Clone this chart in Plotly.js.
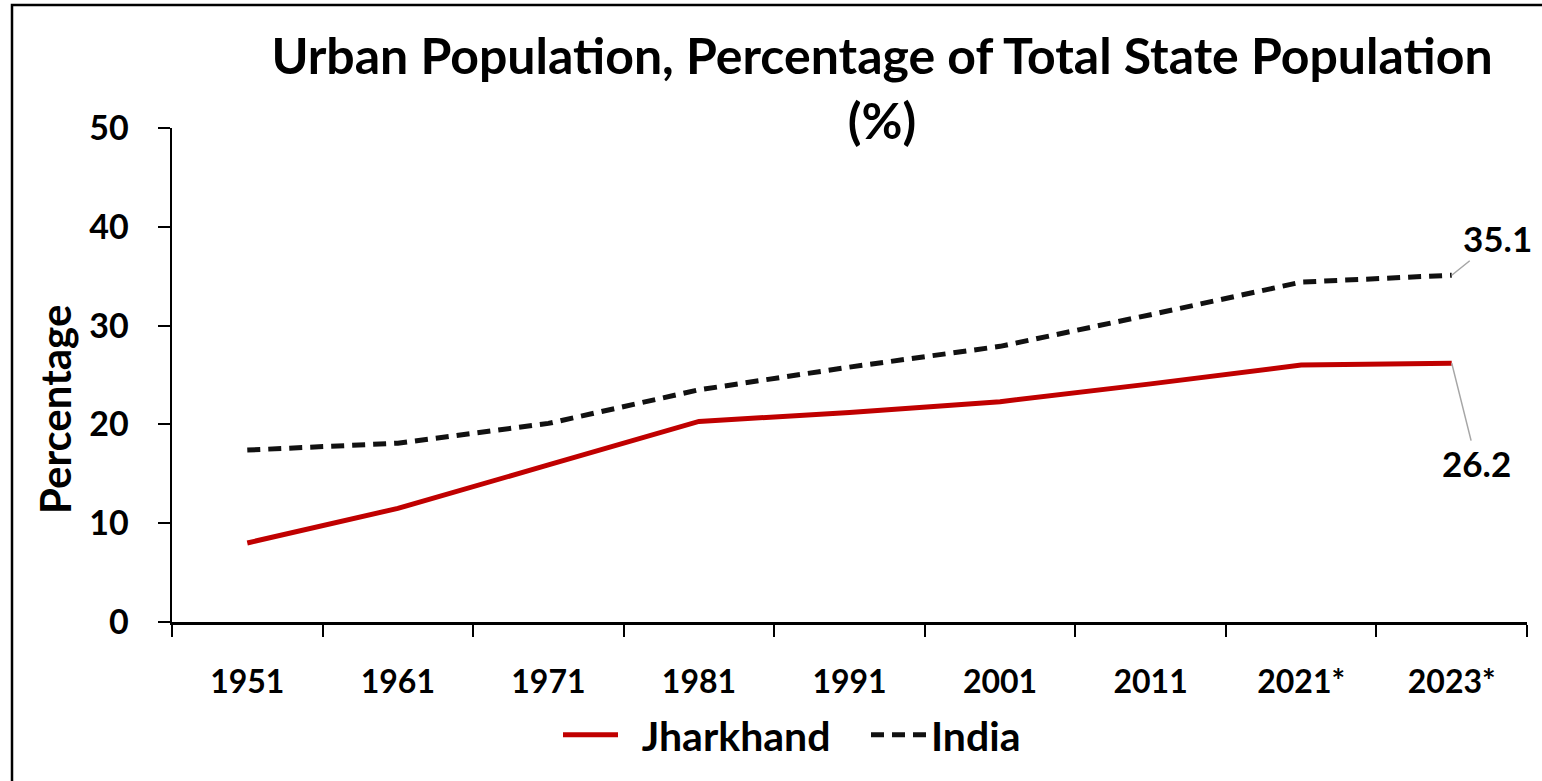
<!DOCTYPE html>
<html>
<head>
<meta charset="utf-8">
<script src="https://cdn.plot.ly/plotly-3.0.1.min.js"></script>
<style>html,body{margin:0;padding:0;background:#fff;}#chart{width:1542px;height:781px;}</style>
</head>
<body>
<div id="chart"></div>
<script>
const years = ["1951", "1961", "1971", "1981", "1991", "2001", "2011", "2021*", "2023*"];
const jharkhand = [8.0, 11.5, 15.9, 20.3, 21.2, 22.3, 24.1, 26.0, 26.2];
const india = [17.4, 18.1, 20.1, 23.5, 25.8, 27.9, 31.1, 34.4, 35.1];
const seriesNames = ["Jharkhand", "India"];
const titleText = "Urban Population, Percentage of Total State Population<br>(%)";
const yTitle = "Percentage";

const FONT = "Lato, 'Open Sans', sans-serif";
const W = 1542, H = 781;
const L = 172, R = 15, T = 128, B = 159;
const pw = W - L - R, ph = H - T - B;
const px = v => (v - L) / pw;
const py = v => (H - B - v) / ph;
const pad = s => "\u00A0\u00A0" + s;

const traces = [
  {x: years, y: jharkhand, name: pad(seriesNames[0]), type: "scatter", mode: "lines",
   line: {color: "#C00000", width: 5}},
  {x: years, y: india, name: seriesNames[1], type: "scatter", mode: "lines",
   line: {color: "#111111", width: 5, dash: "13px,8px"}}
];

const last = years.length - 1;
const layout = {
  width: W, height: H,
  margin: {l: L, r: R, t: T, b: B},
  paper_bgcolor: "#fff", plot_bgcolor: "#fff",
  font: {family: FONT, color: "#000"},
  showlegend: true,
  title: {text: titleText, font: {family: FONT, size: 50, color: "#000", weight: "bold"},
          x: 882 / W, xanchor: "center", xref: "container",
          y: 1 - 74 / H, yanchor: "top", yref: "container"},
  xaxis: {type: "category", range: [-0.5, years.length - 0.5], showgrid: false, zeroline: false, showline: true,
          linecolor: "#000", linewidth: 2.5, ticks: "outside", tickson: "boundaries",
          ticklen: 12, tickwidth: 2, tickcolor: "#000", ticklabelstandoff: 30,
          tickfont: {family: FONT, size: 32, color: "#000", weight: "bold"},
          fixedrange: true},
  yaxis: {range: [0, 50], dtick: 10, showgrid: false, zeroline: false, showline: true,
          linecolor: "#000", linewidth: 2.5, ticks: "outside", ticklen: 12, tickwidth: 2,
          tickcolor: "#000", ticklabelstandoff: 22,
          tickfont: {family: FONT, size: 34, color: "#000", weight: "bold"},
          fixedrange: true},
  legend: {orientation: "h", x: px(866), xanchor: "center", xref: "paper",
           y: py(735), yanchor: "middle", font: {family: FONT, size: 41, color: "#000", weight: "bold"},
           itemwidth: 55, entrywidth: 238, bgcolor: "rgba(0,0,0,0)"},
  annotations: [
    {xref: "paper", yref: "paper", x: px(55), y: py(410), xanchor: "center", yanchor: "middle",
     text: yTitle, textangle: -90,
     showarrow: false, font: {family: FONT, size: 42, color: "#000", weight: "bold"}},
    {x: years[last], y: india[last], xref: "x", yref: "y", text: india[last].toFixed(1),
     showarrow: true, arrowhead: 0, arrowwidth: 1.5, arrowcolor: "#A6A6A6", ax: 46, ay: -37,
     font: {family: FONT, size: 35, color: "#000", weight: "bold"}},
    {x: years[last], y: jharkhand[last], xref: "x", yref: "y", text: jharkhand[last].toFixed(1),
     showarrow: true, arrowhead: 0, arrowwidth: 1.5, arrowcolor: "#A6A6A6", ax: 25, ay: 100,
     font: {family: FONT, size: 35, color: "#000", weight: "bold"}}
  ],
  shapes: [
    {type: "rect", xref: "paper", yref: "paper", x0: px(12), x1: px(1600), y0: py(5), y1: py(850),
     line: {color: "#000", width: 2.5}, fillcolor: "rgba(0,0,0,0)", layer: "below"}
  ]
};

Plotly.newPlot("chart", traces, layout, {displayModeBar: false, staticPlot: true});
</script>
</body>
</html>
